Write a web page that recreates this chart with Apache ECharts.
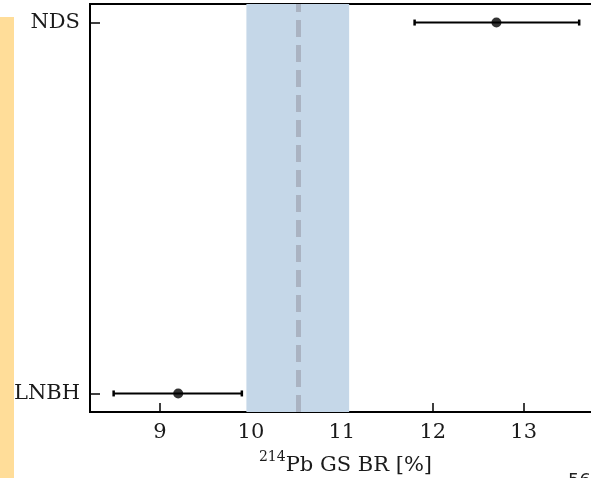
<!DOCTYPE html>
<html>
<head>
<meta charset="utf-8">
<script src="https://cdn.jsdelivr.net/npm/echarts@6/dist/echarts.min.js"></script>
<style>
html,body{margin:0;padding:0;background:#fff;}
#chart{width:591px;height:478px;}
</style>
</head>
<body>
<div id="chart"></div>
<script>
const categories = ['LNBH', 'NDS'];
const centers = [9.2, 12.7];
const errLow = [8.49, 11.8];
const errHigh = [9.9, 13.61];
const bandRange = [9.95, 11.08];
const refValue = 10.52;
const xTicks = [9, 10, 11, 12, 13];
const yTicks = [0, 1];

const chart = echarts.init(document.getElementById('chart'));
const serif = 'DejaVu Serif';

const errData = categories.map((c, i) => [errLow[i], errHigh[i], i]);
const ptData = categories.map((c, i) => [centers[i], i]);

chart.setOption({
  animation: false,
  backgroundColor: '#fff',
  grid: {left: 90, top: 4, width: 511, height: 408, outerBoundsMode: 'none', containLabel: false,
    show: true, borderColor: '#000', borderWidth: 2, backgroundColor: 'transparent'},
  xAxis: {
    type: 'value', min: 8.23, max: 13.85,
    splitLine: {show: false},
    axisLine: {show: true, onZero: false, lineStyle: {color: '#000', width: 2}},
    axisTick: {show: true, inside: true, length: 9, lineStyle: {color: '#000', width: 1.5}, customValues: xTicks},
    axisLabel: {fontFamily: serif, fontSize: 21, color: '#1a1a1a', margin: 10, customValues: xTicks, formatter: v => String(v)},
    name: '{sup|214}{main|Pb GS BR [%]}',
    nameLocation: 'middle', nameGap: 38,
    nameTextStyle: {
      fontFamily: serif, color: '#1a1a1a',
      rich: {
        sup: {fontFamily: serif, fontSize: 14, color: '#1a1a1a', verticalAlign: 'top', lineHeight: 26, padding: [0, 0, 8, 0]},
        main: {fontFamily: serif, fontSize: 21, color: '#1a1a1a', verticalAlign: 'bottom', lineHeight: 26}
      }
    }
  },
  yAxis: {
    type: 'value', min: -0.05, max: 1.05,
    splitLine: {show: false},
    axisLine: {show: true, onZero: false, lineStyle: {color: '#000', width: 2}},
    axisTick: {show: true, inside: true, length: 10, lineStyle: {color: '#000', width: 1.5}, customValues: yTicks},
    axisLabel: {fontFamily: serif, fontSize: 21, color: '#1a1a1a', margin: 10, customValues: yTicks, formatter: v => categories[Math.round(v)]}
  },
  graphic: [
    {type: 'rect', left: 0, top: 17, shape: {width: 14, height: 461}, style: {fill: '#ffdd99'}, z: -1},
    {type: 'text', left: 568, top: 472, style: {text: '56', font: '18px DejaVu Sans', fill: '#222'}}
  ],
  series: [
    {
      type: 'line', data: [], silent: true, z: 1,
      markArea: {silent: true, itemStyle: {color: '#c5d7e8', opacity: 1}, data: [[{xAxis: bandRange[0]}, {xAxis: bandRange[1]}]]},
      markLine: {silent: true, symbol: 'none', label: {show: false},
        lineStyle: {color: '#aab3c2', width: 5, type: [17, 8]},
        data: [{xAxis: refValue}]}
    },
    {
      type: 'custom', z: 3,
      data: errData,
      encode: {x: [0, 1], y: 2},
      renderItem: function (params, api) {
        const y = api.value(2);
        const a = api.coord([api.value(0), y]);
        const b = api.coord([api.value(1), y]);
        const st = {stroke: '#000', lineWidth: 2};
        return {type: 'group', children: [
          {type: 'line', shape: {x1: a[0], y1: a[1], x2: b[0], y2: b[1]}, style: st},
          {type: 'line', shape: {x1: a[0], y1: a[1] - 3, x2: a[0], y2: a[1] + 3}, style: {stroke: '#000', lineWidth: 2.5}},
          {type: 'line', shape: {x1: b[0], y1: b[1] - 3, x2: b[0], y2: b[1] + 3}, style: {stroke: '#000', lineWidth: 2.5}}
        ]};
      }
    },
    {
      type: 'scatter', z: 4, data: ptData, symbol: 'circle', symbolSize: 10,
      itemStyle: {color: '#000'}
    }
  ]
});
</script>
</body>
</html>
